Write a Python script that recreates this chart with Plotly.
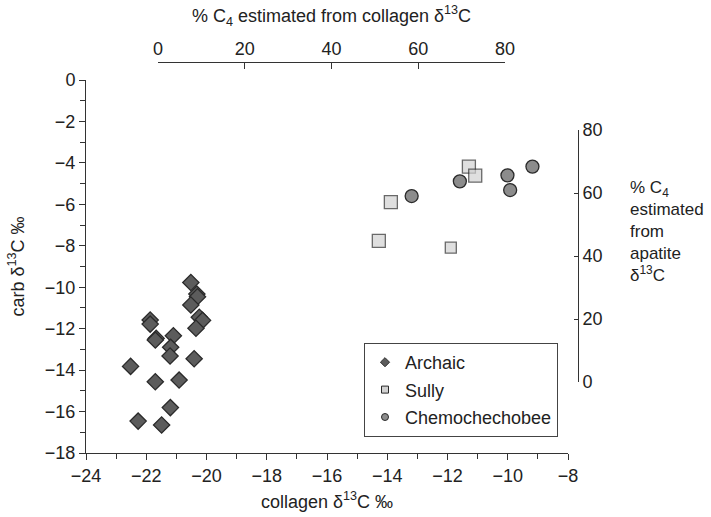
import plotly.graph_objects as go

# ---- data (collagen d13C, carbonate d13C) ----
archaic_x = [-20.52, -20.32, -20.30, -20.52, -20.24, -20.13, -20.35, -21.87, -21.87, -21.67,
             -21.70, -21.10, -21.19, -21.21, -20.41, -22.52, -21.70, -20.91, -21.20, -22.27, -21.49]
archaic_y = [-9.77, -10.33, -10.46, -10.86, -11.45, -11.60, -11.98, -11.58, -11.78, -12.47,
             -12.55, -12.34, -12.90, -13.32, -13.45, -13.82, -14.56, -14.48, -15.81, -16.46, -16.65]

sully_x = [-11.29, -11.08, -13.88, -14.28, -11.89]
sully_y = [-4.18, -4.61, -5.89, -7.76, -8.09]

chemo_x = [-13.19, -11.59, -10.01, -9.92, -9.18]
chemo_y = [-5.60, -4.89, -4.60, -5.31, -4.18]

series_names = ["Archaic", "Sully", "Chemochechobee"]
pct_ticks = [0, 20, 40, 60, 80]

W, H = 711, 517
L, R, T, B = 86, 133, 62, 64
pw = W - L - R
ph = H - T - B

def px_x(p):
    return (p - L) / pw

def px_y(p):
    return (H - B - p) / ph

font = dict(family="Liberation Sans, Arial, sans-serif", size=18, color="#222222")
afont = dict(family="Liberation Sans, Arial, sans-serif", size=17, color="#222222")
axcol = "#333333"

fig = go.Figure()

styles = [
    dict(symbol="diamond", color="#5c5c5c", size=12.5),
    dict(symbol="square", color="#d2d2d2", size=[13, 13, 13, 13, 11]),
    dict(symbol="circle", color="#8c8c8c", size=13),
]
data = [(archaic_x, archaic_y), (sully_x, sully_y), (chemo_x, chemo_y)]

for name, (xs, ys), st in zip(series_names, data, styles):
    fig.add_trace(go.Scatter(
        x=xs, y=ys, mode="markers", name=name, showlegend=False,
        marker=dict(symbol=st["symbol"], color=st["color"], size=st["size"],
                    line=dict(color="#2a2a2a", width=1.3)),
    ))

# legend-only entries with small symbols
for name, st in zip(series_names, styles):
    fig.add_trace(go.Scatter(
        x=[None], y=[None], mode="markers", name=name, showlegend=True,
        legendgroup=name,
        marker=dict(symbol=st["symbol"], color=st["color"], size=7,
                    line=dict(color="#2a2a2a", width=1)),
    ))

# dummy traces to create the secondary axes
fig.add_trace(go.Scatter(x=[None], y=[None], xaxis="x2", yaxis="y", showlegend=False, hoverinfo="skip"))
fig.add_trace(go.Scatter(x=[None], y=[None], xaxis="x", yaxis="y2", showlegend=False, hoverinfo="skip"))

common = dict(showgrid=False, zeroline=False, showline=True, linecolor=axcol, linewidth=1,
              tickcolor=axcol, tickwidth=1, tickfont=font, automargin=False)

fig.update_layout(
    width=W, height=H,
    margin=dict(l=L, r=R, t=T, b=B),
    paper_bgcolor="white", plot_bgcolor="rgba(0,0,0,0)",
    font=font,
    xaxis=dict(
        domain=[0, (568 - L) / pw], range=[-24, -8], dtick=2, tick0=-24,
        ticks="outside", ticklen=6,
        minor=dict(dtick=1, ticks="outside", ticklen=5, tickcolor=axcol, tickwidth=1, showgrid=False),
        title=dict(text="collagen δ<sup>13</sup>C ‰", standoff=10, font=font),
        anchor="y", **common,
    ),
    yaxis=dict(
        domain=[0, px_y(80)], range=[-18, 0], dtick=2, tick0=0,
        ticks="outside", ticklen=6,
        minor=dict(dtick=1, ticks="outside", ticklen=5, tickcolor=axcol, tickwidth=1, showgrid=False),
        title=dict(text="carb δ<sup>13</sup>C ‰", standoff=15, font=font),
        anchor="x", **common,
    ),
    xaxis2=dict(
        domain=[px_x(158), px_x(505)], range=[0, 80], tickvals=pct_ticks,
        side="top", anchor="free", position=1,
        ticks="inside", ticklen=6,
        title=dict(text="% C<sub>4</sub> estimated from collagen δ<sup>13</sup>C", standoff=10, font=font),
        **common,
    ),
    yaxis2=dict(
        domain=[px_y(382), px_y(130)], range=[0, 80], tickvals=pct_ticks,
        side="right", anchor="free", position=1,
        ticks="inside", ticklen=4,
        **common,
    ),
    legend=dict(
        x=px_x(364), y=px_y(343), xanchor="left", yanchor="top",
        bordercolor="#444444", borderwidth=1, bgcolor="white",
        font=font, traceorder="grouped", tracegroupgap=1,
        itemwidth=30,
    ),
    annotations=[dict(
        text="% C<sub>4</sub><br>estimated<br>from<br>apatite<br>δ<sup>13</sup>C",
        xref="paper", yref="paper", x=px_x(628), y=px_y(176),
        xanchor="left", yanchor="top", align="left", showarrow=False, font=afont,
    )],
)

fig.write_html("out.html")
